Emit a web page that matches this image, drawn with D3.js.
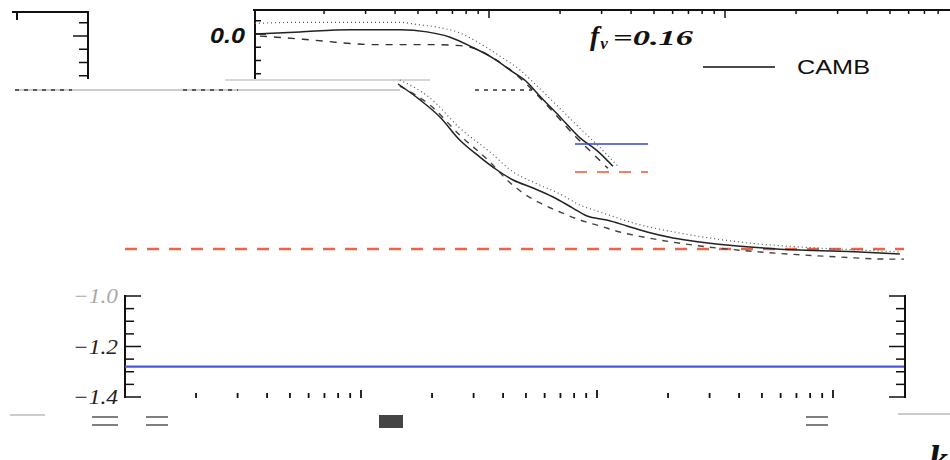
<!DOCTYPE html>
<html>
<head>
<meta charset="utf-8">
<script src="https://cdn.jsdelivr.net/npm/d3@7"></script>
<style>
  body { margin: 0; background: #fff; }
  svg { display: block; }
</style>
</head>
<body>
<svg id="chart" width="950" height="460"></svg>
<script>
// ---- data ----
var F_NU_LABEL = '=0.16';
var LEGEND_LABEL = 'CAMB';

// top panel (shifted copy), ratio vs k
var topSolidK   = [0.00102, 0.00158, 0.00258, 0.0042, 0.00546, 0.00684, 0.00855, 0.0104, 0.0126, 0.0145, 0.0164, 0.020, 0.0243, 0.0287, 0.0335];
var topSolidV   = [0.0, 0.008, 0.016, 0.016, 0.008, -0.012, -0.051, -0.091, -0.143, -0.182, -0.234, -0.313, -0.392, -0.44, -0.499];
var topDottedK  = [0.00102, 0.00158, 0.00258, 0.0042, 0.00495, 0.0062, 0.00753, 0.00917, 0.0111, 0.0135, 0.0164, 0.020, 0.0243, 0.0295, 0.0352];
var topDottedV  = [0.04, 0.044, 0.044, 0.044, 0.036, 0.024, 0.004, -0.036, -0.083, -0.135, -0.206, -0.281, -0.356, -0.428, -0.499];
var topDashedK  = [0.00107, 0.00126, 0.00163, 0.00206, 0.00258, 0.00322, 0.0042, 0.00579, 0.00753, 0.00873, 0.0106, 0.0129, 0.0157, 0.0190, 0.0231, 0.0281, 0.0319];
var topDashedV  = [-0.008, -0.012, -0.02, -0.028, -0.036, -0.04, -0.04, -0.04, -0.044, -0.055, -0.095, -0.15, -0.222, -0.301, -0.384, -0.459, -0.507];
var topYTicks   = [0.05, 0.0, -0.05, -0.1, -0.15];

// middle panel
var midSolidK   = [0.01436, 0.0178, 0.0216, 0.0262, 0.0319, 0.0377, 0.0441, 0.0536, 0.0652, 0.079, 0.0908, 0.110, 0.134, 0.163, 0.210, 0.273, 0.445, 0.724, 1.30, 1.92];
var midSolidV   = [0.006, -0.088, -0.188, -0.324, -0.424, -0.5, -0.559, -0.606, -0.659, -0.724, -0.771, -0.794, -0.829, -0.865, -0.9, -0.924, -0.953, -0.971, -0.982, -0.994];
var midDottedK  = [0.0146, 0.0196, 0.0262, 0.0352, 0.0441, 0.0536, 0.0697, 0.0847, 0.103, 0.148, 0.225, 0.404, 0.724, 1.30, 1.92];
var midDottedV  = [0.029, -0.076, -0.253, -0.394, -0.512, -0.571, -0.641, -0.706, -0.747, -0.818, -0.871, -0.924, -0.953, -0.971, -0.982];
var midDashedK  = [0.0146, 0.0196, 0.0262, 0.0352, 0.0416, 0.0485, 0.0573, 0.0697, 0.0847, 0.103, 0.125, 0.157, 0.273, 0.491, 1.07, 1.69, 2.0];
var midDashedV  = [-0.006, -0.118, -0.294, -0.453, -0.559, -0.635, -0.694, -0.747, -0.794, -0.829, -0.865, -0.894, -0.947, -0.982, -1.012, -1.024, -1.024];
var midRedLevel = -0.965;

// bottom panel
var botBlueLevel = -1.28;
var botYTicks    = [-1.0, -1.05, -1.1, -1.15, -1.2, -1.25, -1.3, -1.35, -1.4];
var botYLabels   = [[-1.0, '\u22121.0'], [-1.2, '\u22121.2'], [-1.4, '\u22121.4']];

// ---- scales ----
var xMain  = d3.scaleLog().domain([1e-3, 1]).range([125, 833]);
var xShift = d3.scaleLog().domain([1e-3, 1]).range([253, 961]);
var yTop = d3.scaleLinear().domain([0, -0.2]).range([34, 87]);
var yMid = d3.scaleLinear().domain([0, -1]).range([85, 255]);
var yBot = d3.scaleLinear().domain([-1.0, -1.4]).range([296, 397]);

var svg = d3.select('#chart');

var zip = function(ks, vs) {
  return ks.map(function(k, i) { return [k, vs[i]]; });
};

var isDecade = function(k) {
  return Math.abs(Math.log10(k) - Math.round(Math.log10(k))) < 1e-6;
};

var drawCurve = function(data, x, y, dash, width, color) {
  var line = d3.line()
    .x(function(d) { return x(d[0]); })
    .y(function(d) { return y(d[1]); })
    .curve(d3.curveMonotoneX);
  svg.append('path')
    .datum(data)
    .attr('d', line)
    .attr('fill', 'none')
    .attr('stroke', color)
    .attr('stroke-width', width)
    .attr('stroke-dasharray', dash);
};

// ---- glitch lines behind everything ----
svg.append('line').attr('x1', 225).attr('x2', 430).attr('y1', 80).attr('y2', 80)
  .attr('stroke', '#c8c8c8').attr('stroke-width', 1.5);
svg.append('line').attr('x1', 15).attr('x2', 400).attr('y1', 90).attr('y2', 90)
  .attr('stroke', '#bdbdbd').attr('stroke-width', 1.5);
[[15, 72], [183, 238], [475, 532]].forEach(function(s) {
  svg.append('line').attr('x1', s[0]).attr('x2', s[1]).attr('y1', 90).attr('y2', 90)
    .attr('stroke', '#333').attr('stroke-width', 1.5).attr('stroke-dasharray', '4,5');
});

// ---- top panel ----
svg.append('line').attr('x1', 253).attr('x2', 950).attr('y1', 10).attr('y2', 10)
  .attr('stroke', '#111').attr('stroke-width', 2);
svg.append('line').attr('x1', 255).attr('x2', 255).attr('y1', 9).attr('y2', 79)
  .attr('stroke', '#111').attr('stroke-width', 2);

var topXTicks = xShift.ticks().filter(function(k) {
  return xShift(k) > 256 && xShift(k) < 950;
});
svg.selectAll('.ttick').data(topXTicks).enter().append('line')
  .attr('x1', function(d) { return xShift(d); })
  .attr('x2', function(d) { return xShift(d); })
  .attr('y1', 10)
  .attr('y2', function(d) { return isDecade(d) ? 18 : 14; })
  .attr('stroke', '#111').attr('stroke-width', 1.5);

svg.selectAll('.tytick').data(topYTicks).enter().append('line')
  .attr('x1', 255)
  .attr('x2', function(d) { return d === 0 ? 266 : 261; })
  .attr('y1', function(d) { return yTop(d); })
  .attr('y2', function(d) { return yTop(d); })
  .attr('stroke', '#111').attr('stroke-width', 1.5);

svg.append('text').attr('x', 210).attr('y', 43)
  .attr('font-family', 'Liberation Sans, Arial, sans-serif')
  .attr('font-weight', 'bold').attr('font-style', 'italic')
  .attr('font-size', 22).attr('fill', '#111')
  .attr('textLength', 35).attr('lengthAdjust', 'spacingAndGlyphs')
  .text('0.0');

// left-corner fragment
svg.append('line').attr('x1', 12).attr('x2', 89).attr('y1', 12).attr('y2', 12)
  .attr('stroke', '#111').attr('stroke-width', 2);
svg.append('line').attr('x1', 88).attr('x2', 88).attr('y1', 11).attr('y2', 79)
  .attr('stroke', '#111').attr('stroke-width', 2);
svg.append('line').attr('x1', 17).attr('x2', 17).attr('y1', 12).attr('y2', 20)
  .attr('stroke', '#111').attr('stroke-width', 2);
svg.selectAll('.lytick').data(topYTicks).enter().append('line')
  .attr('x1', 88)
  .attr('x2', function(d) { return d === 0 ? 73 : 79; })
  .attr('y1', function(d) { return yTop(d) + 2; })
  .attr('y2', function(d) { return yTop(d) + 2; })
  .attr('stroke', '#111').attr('stroke-width', 1.5);

drawCurve(zip(topDottedK, topDottedV), xShift, yTop, '1,3', 1.2, '#555');
drawCurve(zip(topDashedK, topDashedV), xShift, yTop, '7,7', 1.4, '#333');
drawCurve(zip(topSolidK, topSolidV), xShift, yTop, null, 1.5, '#222');

// f_nu label
var fnu = svg.append('text').attr('x', 590).attr('y', 45)
  .attr('font-family', 'Liberation Serif, Times New Roman, serif')
  .attr('font-weight', 'bold').attr('font-style', 'italic')
  .attr('font-size', 28).attr('fill', '#111');
fnu.append('tspan').text('f');
fnu.append('tspan').attr('font-size', 17).attr('dy', 4).attr('dx', 1).text('\u03bd');
svg.append('text').attr('x', 613).attr('y', 45)
  .attr('font-family', 'Liberation Serif, Times New Roman, serif')
  .attr('font-weight', 'bold').attr('font-style', 'italic')
  .attr('font-size', 22).attr('fill', '#111')
  .attr('textLength', 80).attr('lengthAdjust', 'spacingAndGlyphs')
  .text(F_NU_LABEL);

// ---- middle panel ----
svg.append('line')
  .attr('x1', xMain(1e-3)).attr('x2', xMain(2))
  .attr('y1', yMid(midRedLevel)).attr('y2', yMid(midRedLevel))
  .attr('stroke', '#ee6347').attr('stroke-width', 2.5)
  .attr('stroke-dasharray', '12,10');

drawCurve(zip(midDottedK, midDottedV), xMain, yMid, '1,3', 1.2, '#555');
drawCurve(zip(midDashedK, midDashedV), xMain, yMid, '6,6', 1.4, '#444');
drawCurve(zip(midSolidK, midSolidV), xMain, yMid, null, 1.5, '#222');

// legend
svg.append('line').attr('x1', 703).attr('x2', 775).attr('y1', 67).attr('y2', 67)
  .attr('stroke', '#111').attr('stroke-width', 1.5);
svg.append('text').attr('x', 797).attr('y', 74)
  .attr('font-family', 'Liberation Sans, Arial, sans-serif')
  .attr('font-size', 21).attr('fill', '#111')
  .attr('textLength', 73).attr('lengthAdjust', 'spacingAndGlyphs')
  .text(LEGEND_LABEL);
svg.append('line').attr('x1', 575).attr('x2', 648).attr('y1', 144).attr('y2', 144)
  .attr('stroke', '#3344dd').attr('stroke-width', 1.6);
svg.append('line').attr('x1', 575).attr('x2', 648).attr('y1', 172).attr('y2', 172)
  .attr('stroke', '#ee5533').attr('stroke-width', 1.6)
  .attr('stroke-dasharray', '12,10');

// ---- bottom panel ----
[125, 905].forEach(function(xa) {
  svg.append('line').attr('x1', xa).attr('x2', xa).attr('y1', 295).attr('y2', 398)
    .attr('stroke', '#111').attr('stroke-width', 2);
  var dir = xa < 500 ? 1 : -1;
  svg.selectAll(null).data(botYTicks).enter().append('line')
    .attr('x1', xa)
    .attr('x2', function(d, i) { return xa + dir * (i % 4 === 0 ? 16 : 9); })
    .attr('y1', function(d) { return yBot(d); })
    .attr('y2', function(d) { return yBot(d); })
    .attr('stroke', '#111').attr('stroke-width', 1.5);
});

svg.append('line')
  .attr('x1', xMain(1e-3)).attr('x2', xMain(2))
  .attr('y1', yBot(botBlueLevel)).attr('y2', yBot(botBlueLevel))
  .attr('stroke', '#4a5ae0').attr('stroke-width', 2.2);

var botXTicks = xMain.ticks().concat([2]).filter(function(k) {
  return xMain(k) > 130 && xMain(k) < 900;
});
svg.selectAll('.btick').data(botXTicks).enter().append('line')
  .attr('x1', function(d) { return xMain(d); })
  .attr('x2', function(d) { return xMain(d); })
  .attr('y1', function(d) { return isDecade(d) ? 390 : 393; })
  .attr('y2', 398)
  .attr('stroke', '#111').attr('stroke-width', 1.8);

svg.selectAll('.bylab').data(botYLabels).enter().append('text')
  .attr('x', 73)
  .attr('y', function(d) { return yBot(d[0]) + 7; })
  .attr('font-family', 'Liberation Serif, Times New Roman, serif')
  .attr('font-style', 'italic')
  .attr('font-size', 21)
  .attr('textLength', 45).attr('lengthAdjust', 'spacingAndGlyphs')
  .attr('fill', function(d, i) { return i === 0 ? '#aaa' : '#222'; })
  .text(function(d) { return d[1]; });

// bottom-right axis letter (cut by the edge, as in the reference)
svg.append('text').attr('x', 929).attr('y', 472)
  .attr('font-family', 'Liberation Serif, Times New Roman, serif')
  .attr('font-weight', 'bold').attr('font-style', 'italic')
  .attr('font-size', 38).attr('fill', '#111')
  .text('k');

// ---- glitch fragments near the bottom ----
svg.append('line').attr('x1', 10).attr('x2', 45).attr('y1', 415).attr('y2', 415)
  .attr('stroke', '#bbb').attr('stroke-width', 1.5);
svg.append('line').attr('x1', 898).attr('x2', 950).attr('y1', 414).attr('y2', 414)
  .attr('stroke', '#bbb').attr('stroke-width', 1.5);
svg.append('rect').attr('x', 379).attr('y', 415).attr('width', 24).attr('height', 13)
  .attr('fill', '#444');
[[92, 118], [146, 168], [806, 828]].forEach(function(s) {
  [417, 425].forEach(function(yy) {
    svg.append('line').attr('x1', s[0]).attr('x2', s[1]).attr('y1', yy).attr('y2', yy)
      .attr('stroke', '#555').attr('stroke-width', 1.5);
  });
});
</script>
</body>
</html>
